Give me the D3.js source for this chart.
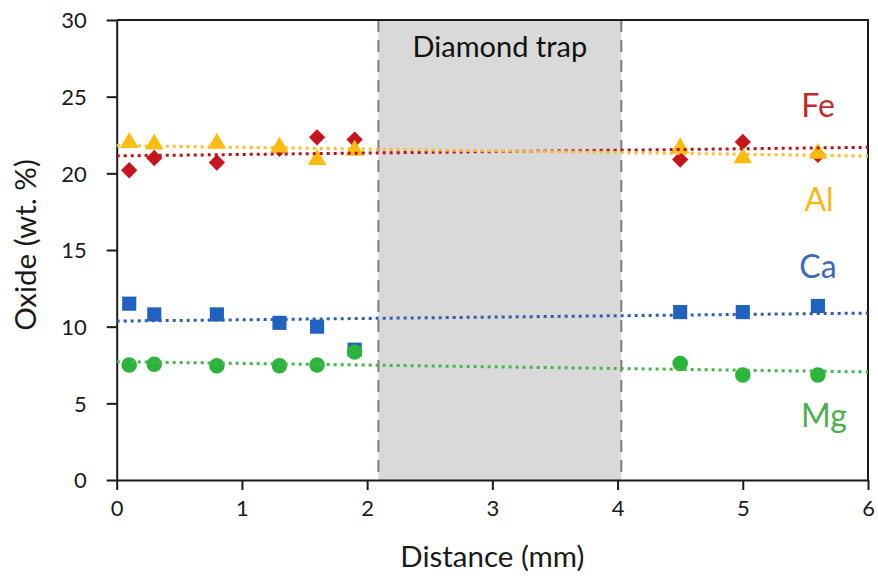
<!DOCTYPE html>
<html>
<head>
<meta charset="utf-8">
<script src="https://cdn.jsdelivr.net/npm/d3@7"></script>
<style>
  html, body {
    margin: 0;
    padding: 0;
    background: #fff;
  }
  svg {
    display: block;
    font-family: Lato, 'Open Sans', sans-serif;
  }
</style>
</head>
<body>
<svg width="878" height="582"></svg>
<script>
// Sample positions along the traverse (mm), shared by all four oxides.
const distances = [0.1, 0.3, 0.8, 1.3, 1.6, 1.9, 4.5, 5.0, 5.6];

// Oxide contents (wt. %).
const feValues = [20.2, 21.0, 20.7, 21.6, 22.35, 22.2, 20.9, 22.05, 21.2];
const alValues = [22.0, 21.9, 21.95, 21.7, 20.9, 21.5, 21.65, 21.0, 21.3];
const caValues = [11.5, 10.8, 10.8, 10.25, 10.0, 8.5, 10.95, 10.95, 11.35];
const mgValues = [7.5, 7.55, 7.45, 7.45, 7.5, 8.35, 7.6, 6.85, 6.85];

// Shaded region where the diamond sat.
const trapExtent = [2.09, 4.03];
const trapLabel = 'Diamond trap';

const xTicks = [0, 1, 2, 3, 4, 5, 6];
const yTicks = [0, 5, 10, 15, 20, 25, 30];

const SERIES = [
  {name: 'Fe', values: feValues, shape: d3.symbolDiamond2, size: 170,
    fill: '#c4161c', line: '#b5121b', label: '#c0282d', labelX: 818,
    labelY: 117},
  {name: 'Al', values: alValues, shape: d3.symbolTriangle, size: 150,
    fill: '#fcbc0e', line: '#f8c030', label: '#f5b91a', labelX: 819,
    labelY: 211},
  {name: 'Ca', values: caValues, shape: d3.symbolSquare, size: 200,
    fill: '#1f62c0', line: '#2d5eb0', label: '#3a6cb5', labelX: 818,
    labelY: 278},
  {name: 'Mg', values: mgValues, shape: d3.symbolCircle, size: 190,
    fill: '#2bb33b', line: '#45b54d', label: '#4cae4f', labelX: 824,
    labelY: 427},
];

/**
 * Least-squares straight line through the points, like an Excel trendline.
 * @param {!Array<number>} xs
 * @param {!Array<number>} ys
 * @return {function(number): number}
 */
function linearFit(xs, ys) {
  const mx = d3.mean(xs);
  const my = d3.mean(ys);
  const sxy = d3.sum(xs, (x, i) => (x - mx) * (ys[i] - my));
  const sxx = d3.sum(xs, x => (x - mx) * (x - mx));
  const slope = sxy / sxx;
  return x => my + slope * (x - mx);
}

function renderChart() {
  const svg = d3.select('svg');
  const left = 116.7;
  const right = 868;
  const top = 20;
  const bottom = 480;

  const x = d3.scaleLinear().domain([0, 6]).range([left, right]);
  const y = d3.scaleLinear().domain([0, 30]).range([bottom, top]);

  // Diamond trap band with dashed edges.
  svg.append('rect')
      .attr('x', x(trapExtent[0]))
      .attr('y', top)
      .attr('width', x(trapExtent[1]) - x(trapExtent[0]))
      .attr('height', bottom - top)
      .attr('fill', '#d9d9d9');
  svg.selectAll('line.trap-edge')
      .data(trapExtent)
      .join('line')
      .classed('trap-edge', true)
      .attr('x1', d => x(d))
      .attr('x2', d => x(d))
      .attr('y1', top)
      .attr('y2', bottom)
      .attr('stroke', '#857877')
      .attr('stroke-width', 2)
      .attr('stroke-dasharray', '12,8');
  svg.append('text')
      .attr('x', x(d3.mean(trapExtent)))
      .attr('y', 57)
      .attr('text-anchor', 'middle')
      .attr('font-size', 29)
      .attr('fill', '#111')
      .text(trapLabel);

  // Frame: top and right borders.
  svg.append('path')
      .attr('d', `M${left},${top} H${right} V${bottom}`)
      .attr('fill', 'none')
      .attr('stroke', '#1a1a1a')
      .attr('stroke-width', 2);

  // Axes.
  const xAxis = svg.append('g')
      .attr('transform', `translate(0,${bottom})`)
      .call(d3.axisBottom(x).tickValues(xTicks).tickFormat(d3.format('d'))
          .tickSize(10).tickSizeOuter(0).tickPadding(26));
  const yAxis = svg.append('g')
      .attr('transform', `translate(${left},0)`)
      .call(d3.axisLeft(y).tickValues(yTicks).tickFormat(d3.format('d'))
          .tickSize(10).tickSizeOuter(0).tickPadding(20));
  [xAxis, yAxis].forEach(axis => {
    axis.attr('font-family', null).attr('font-size', 22);
    axis.select('.domain').attr('stroke', '#1a1a1a').attr('stroke-width', 2);
    axis.selectAll('.tick line')
        .attr('stroke', '#1a1a1a')
        .attr('stroke-width', 2);
    axis.selectAll('.tick text').attr('fill', '#1a1a1a');
  });
  xAxis.selectAll('.tick text').attr('dy', '0');
  yAxis.selectAll('.tick text').attr('dy', '0.36em');

  svg.append('text')
      .attr('x', (left + right) / 2)
      .attr('y', 567)
      .attr('text-anchor', 'middle')
      .attr('font-size', 29.5)
      .attr('fill', '#1a1a1a')
      .text('Distance (mm)');
  svg.append('text')
      .attr('transform', 'translate(36,245) rotate(-90)')
      .attr('text-anchor', 'middle')
      .attr('font-size', 29.5)
      .attr('fill', '#1a1a1a')
      .text('Oxide (wt. %)');

  // Markers first, trendlines drawn over them.
  SERIES.forEach(s => {
    svg.append('g')
        .selectAll('path')
        .data(s.values)
        .join('path')
        .attr('transform', (d, i) => `translate(${x(distances[i])},${y(d)})`)
        .attr('d', d3.symbol().type(s.shape).size(s.size))
        .attr('fill', s.fill);
  });

  SERIES.forEach(s => {
    const fit = linearFit(distances, s.values);
    svg.append('line')
        .attr('x1', x(0))
        .attr('x2', x(6))
        .attr('y1', y(fit(0)))
        .attr('y2', y(fit(6)))
        .attr('stroke', s.line)
        .attr('stroke-width', 3)
        .attr('stroke-dasharray', '3,4');
    svg.append('text')
        .attr('x', s.labelX)
        .attr('y', s.labelY)
        .attr('text-anchor', 'middle')
        .attr('font-size', 32)
        .attr('fill', s.label)
        .text(s.name);
  });
}

document.addEventListener('DOMContentLoaded', renderChart);
</script>
</body>
</html>
